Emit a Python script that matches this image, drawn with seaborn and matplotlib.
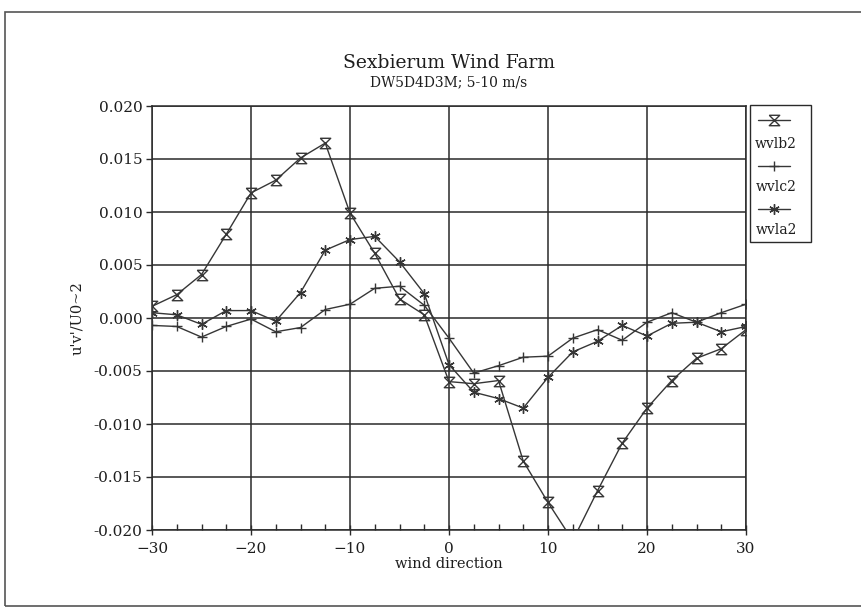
import matplotlib
matplotlib.use("Agg")
import matplotlib.pyplot as plt
from matplotlib.path import Path
from matplotlib.markers import MarkerStyle
from matplotlib.lines import Line2D
from matplotlib.patches import Rectangle
from matplotlib.ticker import MultipleLocator, FormatStrFormatter
import pandas as pd
import seaborn as sns

# wind direction (deg) and the three u'v'/U0^2 series
wind_direction = [-30, -27.5, -25, -22.5, -20, -17.5, -15, -12.5, -10, -7.5, -5, -2.5,
                  0, 2.5, 5, 7.5, 10, 12.5, 15, 17.5, 20, 22.5, 25, 27.5, 30]
wvlb2 = [0.0011, 0.0022, 0.0041, 0.0079, 0.0118, 0.0130, 0.0151, 0.0165, 0.0099, 0.0061,
         0.0018, 0.0003, -0.0060, -0.0062, -0.0059, -0.0135, -0.0174, -0.0210, -0.0163,
         -0.0118, -0.0085, -0.0059, -0.0038, -0.0029, -0.0011]
wvlc2 = [-0.0007, -0.0008, -0.0018, -0.0008, -0.0001, -0.0013, -0.0009, 0.0008, 0.0013,
         0.0028, 0.0030, 0.0012, -0.0019, -0.0052, -0.0045, -0.0037, -0.0036, -0.0019,
         -0.0011, -0.0021, -0.0004, 0.0005, -0.0004, 0.0005, 0.0013]
wvla2 = [0.0005, 0.0003, -0.0006, 0.0007, 0.0007, -0.0003, 0.0024, 0.0064, 0.0074, 0.0077,
         0.0053, 0.0023, -0.0044, -0.0070, -0.0076, -0.0085, -0.0056, -0.0032, -0.0022,
         -0.0007, -0.0017, -0.0005, -0.0004, -0.0013, -0.0008]
series_names = ["wvlb2", "wvlc2", "wvla2"]

W, H = 861, 609
sns.set_theme(style="white")
plt.rcParams["font.family"] = ["DejaVu Serif"]
plt.rcParams["axes.unicode_minus"] = True

INK = "#363636"
GRID = "#2a2a2a"
TEXT = "#1e1e1e"

# hourglass marker: top bar, diagonal, bottom bar, diagonal
hourglass = MarkerStyle(Path([(-1, 1), (1, 1), (-1, -1), (1, -1), (-1, 1)],
                             [Path.MOVETO, Path.LINETO, Path.LINETO, Path.LINETO, Path.LINETO]),
                        fillstyle="none")
markers = {"wvlb2": hourglass, "wvlc2": "+", "wvla2": (6, 2, 0)}

df = pd.DataFrame({"wind direction": wind_direction,
                   "wvlb2": wvlb2, "wvlc2": wvlc2, "wvla2": wvla2})
long = df.melt(id_vars="wind direction", var_name="series", value_name="uv")

fig = plt.figure(figsize=(W / 100, H / 100), dpi=100)
ax_l, ax_r, ax_t, ax_b = 152, 746, 106, 530
ax = fig.add_axes([ax_l / W, 1 - ax_b / H, (ax_r - ax_l) / W, (ax_b - ax_t) / H])

for name in series_names:
    sub = long[long["series"] == name]
    sns.lineplot(data=sub, x="wind direction", y="uv", ax=ax, color=INK, lw=1.0,
                 marker=markers[name], markersize=7.5, markeredgecolor=INK,
                 markeredgewidth=1.0, markerfacecolor="none", legend=False, zorder=3)

ax.set_xlim(-30, 30)
ax.set_ylim(-0.020, 0.020)
ax.xaxis.set_major_locator(MultipleLocator(10))
ax.xaxis.set_minor_locator(MultipleLocator(2.5))
ax.yaxis.set_major_locator(MultipleLocator(0.005))
ax.yaxis.set_major_formatter(FormatStrFormatter("%.3f"))
ax.grid(True, which="major", color=GRID, lw=1.1)
for s in ax.spines.values():
    s.set_color(GRID)
    s.set_linewidth(1.1)

ax.tick_params(axis="y", which="major", direction="out", length=4, width=1, color=GRID,
               pad=3, labelsize=11, labelcolor=TEXT, left=True)
ax.tick_params(axis="x", which="major", direction="inout", length=7, width=1, color=GRID,
               pad=5, labelsize=11, labelcolor=TEXT, bottom=True)
ax.tick_params(axis="x", which="minor", direction="in", length=4, width=1, color=GRID,
               bottom=True)

ax.set_xlabel("wind direction", fontsize=10.5, color=TEXT)
ax.xaxis.set_label_coords(0.5, -(557 - ax_b) / (ax_b - ax_t))
ax.set_ylabel("u'v'/U0~2", fontsize=10.5, color=TEXT)
ax.yaxis.set_label_coords(-(ax_l - 84) / (ax_r - ax_l), 0.5)


def fx(px):
    return px / W


def fy(py):
    return 1 - py / H


# titles
fig.text(fx(449), fy(63), "Sexbierum Wind Farm", ha="center", va="center",
         fontsize=13.5, color=TEXT)
fig.text(fx(449), fy(82), "DW5D4D3M; 5-10 m/s", ha="center", va="center",
         fontsize=10, color=TEXT)

# legend box with sample line above each label
fig.add_artist(Rectangle((fx(750), fy(242)), fx(811) - fx(750), fy(105) - fy(242),
                         transform=fig.transFigure, fill=False, ec=GRID, lw=1.0))
for name, y_line, y_text in zip(series_names, [120, 166, 209], [144, 187, 230]):
    fig.add_artist(Line2D([fx(758), fx(790)], [fy(y_line), fy(y_line)],
                          transform=fig.transFigure, color=INK, lw=1.0))
    fig.add_artist(Line2D([fx(774)], [fy(y_line)], transform=fig.transFigure,
                          marker=markers[name], markersize=7.5, mec=INK, mew=1.0,
                          mfc="none", linestyle="none"))
    fig.text(fx(776), fy(y_text), name, ha="center", va="center", fontsize=10,
             color=TEXT)

# outer frame
fig.add_artist(Rectangle((fx(5), fy(606)), 1.0, fy(12) - fy(606),
                         transform=fig.transFigure, fill=False, ec="#555555", lw=1.2))

fig.savefig("out.png", dpi=100, facecolor="white")
